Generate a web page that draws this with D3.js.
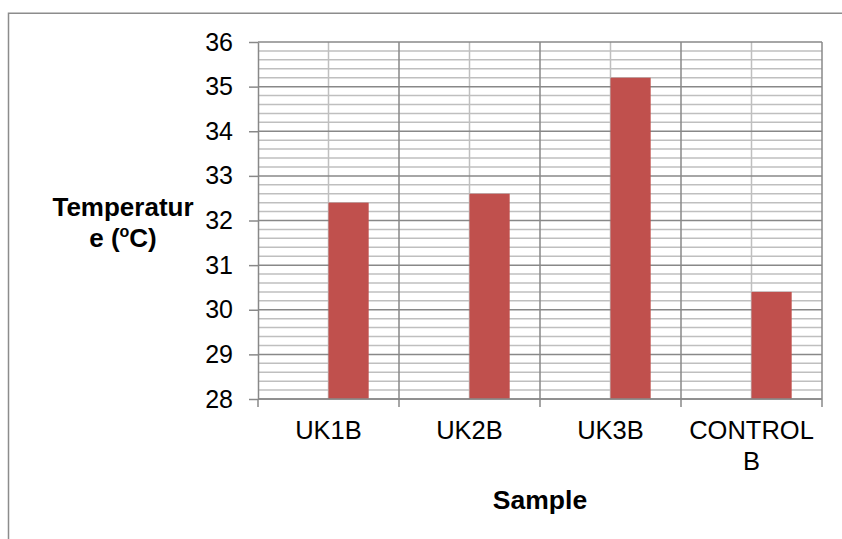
<!DOCTYPE html>
<html>
<head>
<meta charset="utf-8">
<script src="https://cdn.jsdelivr.net/npm/d3@7"></script>
<style>
  body { margin: 0; background: #fff; overflow: hidden; }
  svg { display: block; font-family: "Liberation Sans", Arial, sans-serif; }
</style>
</head>
<body>
<svg width="842" height="539"></svg>
<script>
// chart data
const categories = ["UK1B", "UK2B", "UK3B", "CONTROL B"];
const temperature = [32.4, 32.6, 35.2, 30.4];
const yTicks = [28, 29, 30, 31, 32, 33, 34, 35, 36];

const svg = d3.select("svg");

const plot = { left: 258, right: 822, top: 42, bottom: 399 };

// outer frame, only left and top edges fall inside the picture
svg.append("path")
    .attr("d", "M8.5,539V13.2H842")
    .attr("fill", "none")
    .attr("stroke", "#8c8c8c")
    .attr("stroke-width", 1.5);

const x = d3.scaleBand()
    .domain(categories)
    .range([plot.left, plot.right])
    .padding(0);

const y = d3.scaleLinear()
    .domain([28, 36])
    .range([plot.bottom, plot.top]);

// minor horizontal grid every 0.2
const minor = d3.range(28, 36.001, 0.2).filter(v => Math.abs(v - Math.round(v)) > 1e-6);
svg.append("g")
    .selectAll("line")
    .data(minor)
    .join("line")
    .attr("x1", plot.left).attr("x2", plot.right)
    .attr("y1", d => y(d)).attr("y2", d => y(d))
    .attr("stroke", "#bfbfbf")
    .attr("stroke-width", 1.5);

// vertical mid-category lines
svg.append("g")
    .selectAll("line")
    .data(categories)
    .join("line")
    .attr("x1", d => x(d) + x.bandwidth() / 2)
    .attr("x2", d => x(d) + x.bandwidth() / 2)
    .attr("y1", plot.top).attr("y2", plot.bottom)
    .attr("stroke", "#bfbfbf")
    .attr("stroke-width", 1.5);

// major horizontal grid
svg.append("g")
    .selectAll("line")
    .data(yTicks)
    .join("line")
    .attr("x1", plot.left).attr("x2", plot.right)
    .attr("y1", d => y(d)).attr("y2", d => y(d))
    .attr("stroke", "#888")
    .attr("stroke-width", 1.5);

// vertical category boundaries
svg.append("g")
    .selectAll("line")
    .data(categories)
    .join("line")
    .attr("x1", d => x(d) + x.bandwidth())
    .attr("x2", d => x(d) + x.bandwidth())
    .attr("y1", plot.top).attr("y2", plot.bottom)
    .attr("stroke", "#888")
    .attr("stroke-width", 1.5);

// bars
svg.append("g")
    .selectAll("rect")
    .data(categories)
    .join("rect")
    .attr("x", d => x(d) + x.bandwidth() / 2)
    .attr("width", x.bandwidth() * 0.285)
    .attr("y", (d, i) => y(temperature[i]))
    .attr("height", (d, i) => y(28) - y(temperature[i]))
    .attr("fill", "#c0504d");

// y axis
const yAxis = svg.append("g")
    .attr("transform", `translate(${plot.left},0)`)
    .call(d3.axisLeft(y).tickValues(yTicks).tickSize(9).tickPadding(16).tickSizeOuter(0));
yAxis.select(".domain").attr("stroke", "#888").attr("stroke-width", 1.5);
yAxis.selectAll(".tick line").attr("stroke", "#888").attr("stroke-width", 1.5);
yAxis.selectAll("text")
    .attr("font-size", 25)
    .attr("fill", "#000")
    .attr("font-family", "Liberation Sans, Arial, sans-serif");

// x axis: ticks at category boundaries
const xAxis = svg.append("g")
    .attr("transform", `translate(0,${plot.bottom})`);
xAxis.append("line")
    .attr("x1", plot.left).attr("x2", plot.right)
    .attr("stroke", "#888").attr("stroke-width", 1.5);
xAxis.selectAll(".xt")
    .data([plot.left].concat(categories.map(c => x(c) + x.bandwidth())))
    .join("line")
    .attr("class", "xt")
    .attr("x1", d => d).attr("x2", d => d)
    .attr("y1", 0).attr("y2", 8)
    .attr("stroke", "#888").attr("stroke-width", 1.5);

// category labels, wrapped like the original
const labelLines = categories.map(c => c === "CONTROL B" ? ["CONTROL", "B"] : [c]);
xAxis.selectAll(".xl")
    .data(categories)
    .join("text")
    .attr("class", "xl")
    .attr("x", d => x(d) + x.bandwidth() / 2)
    .attr("y", 40)
    .attr("text-anchor", "middle")
    .attr("font-size", 25.5)
    .selectAll("tspan")
    .data((d, i) => labelLines[i])
    .join("tspan")
    .attr("x", function () { return this.parentNode.getAttribute("x"); })
    .attr("dy", (d, i) => i === 0 ? 0 : 31)
    .text(d => d);

// axis titles
svg.append("text")
    .attr("x", (plot.left + plot.right) / 2)
    .attr("y", 509)
    .attr("text-anchor", "middle")
    .attr("font-size", 26.5)
    .attr("font-weight", "bold")
    .text("Sample");

// y title as two separate lines, as wrapped in the original
const ytLines = svg.append("g")
    .attr("text-anchor", "middle")
    .attr("font-size", 26)
    .attr("font-weight", "bold");
ytLines.append("text").attr("x", 123).attr("y", 216).text("Temperatur");
const l2 = ytLines.append("text").attr("x", 123).attr("y", 247);
l2.append("tspan").text("e (");
l2.append("tspan").attr("font-size", 16).attr("dy", -10).text("o");
l2.append("tspan").attr("dy", 10).text("C)");
</script>
</body>
</html>
